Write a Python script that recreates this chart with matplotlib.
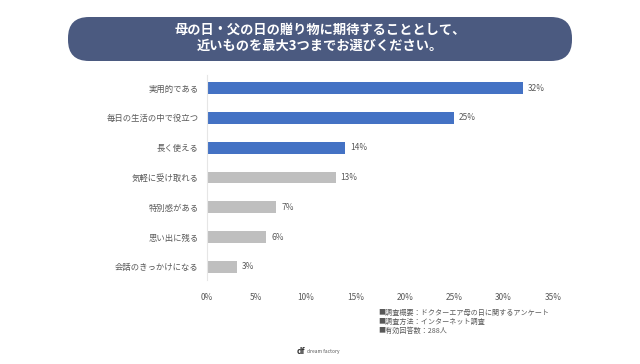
import matplotlib.pyplot as plt
from matplotlib.patches import FancyBboxPatch

plt.rcParams['font.family'] = ['Noto Sans CJK JP', 'DejaVu Sans']

categories = ["実用的である", "毎日の生活の中で役立つ", "長く使える", "気軽に受け取れる",
              "特別感がある", "思い出に残る", "会話のきっかけになる"]
values = [32, 25, 14, 13, 7, 6, 3]
highlight = [True, True, True, False, False, False, False]
xticks = [0, 5, 10, 15, 20, 25, 30, 35]
notes = ["■調査概要：ドクターエア母の日に関するアンケート",
         "■調査方法：インターネット調査",
         "■有効回答数：288人"]

fig = plt.figure(figsize=(6.4, 3.64), dpi=100, facecolor="white")

# background axes in pixel units for the title banner
bg = fig.add_axes([0, 0, 1, 1])
bg.set_xlim(0, 640)
bg.set_ylim(364, 0)
bg.axis("off")
bg.add_patch(FancyBboxPatch((68, 17), 504, 44,
                            boxstyle="round,pad=0,rounding_size=21",
                            fc="#4B5A80", ec="none"))
bg.text(320, 30, "母の日・父の日の贈り物に期待することとして、",
        ha="center", va="center", color="white", fontsize=9.5, fontweight="bold")
bg.text(320, 46, "近いものを最大3つまでお選びください。",
        ha="center", va="center", color="white", fontsize=9.5, fontweight="bold")

ax = fig.add_axes([207 / 640, 1 - 280 / 364, (553 - 207) / 640, (280 - 75) / 364])
colors = ["#4472C4" if h else "#BFBFBF" for h in highlight]
y = range(len(categories))
ax.barh(y, values, height=0.4, color=colors)
for yi, v in zip(y, values):
    ax.text(v + 0.5, yi, f"{v}%", va="center", ha="left", fontsize=6, color="#595959")

ax.set_xlim(0, 35)
ax.set_ylim(6.44, -0.44)
ax.set_yticks(list(y))
ax.set_yticklabels(categories, fontsize=6, color="#595959")
ax.set_xticks(xticks)
ax.set_xticklabels([f"{t}%" for t in xticks], fontsize=6, color="#595959")
ax.tick_params(length=0)
ax.tick_params(axis="x", pad=9)
ax.tick_params(axis="y", pad=6)
for s in ["top", "right", "bottom"]:
    ax.spines[s].set_visible(False)
ax.spines["left"].set_color("#E6E6E6")
ax.spines["left"].set_linewidth(0.8)

for i, n in enumerate(notes):
    bg.text(378, 313 + 9 * i, n, ha="left", va="center",
            fontsize=5.1, color="#595959")

bg.text(297, 351, "df", ha="left", va="center",
        fontsize=6, fontweight="bold", color="#333333")
bg.text(307, 351, "dream factory", ha="left", va="center",
        fontsize=3.5, color="#555555")

fig.savefig("out.png", dpi=100, facecolor="white")
